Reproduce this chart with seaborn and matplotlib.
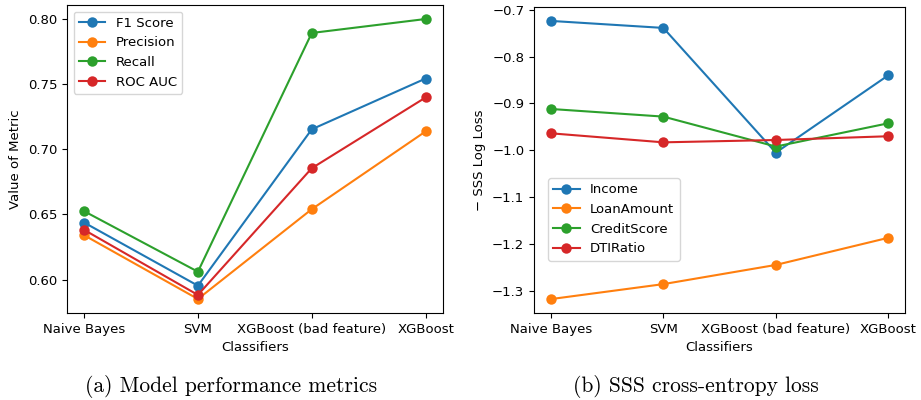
import pandas as pd
import matplotlib.pyplot as plt
import seaborn as sns

classifiers = ["Naive Bayes", "SVM", "XGBoost (bad feature)", "XGBoost"]

# (a) metriques
f1_score = [0.6438, 0.5954, 0.7152, 0.7541]
precision = [0.6341, 0.5852, 0.6540, 0.7136]
recall = [0.6525, 0.6061, 0.7890, 0.7997]
roc_auc = [0.6382, 0.5883, 0.6854, 0.7396]

# (b) - SSS log loss
income = [-0.7235, -0.7385, -1.005, -0.8397]
loan_amount = [-1.318, -1.286, -1.245, -1.187]
credit_score = [-0.9117, -0.928, -0.992, -0.9423]
dti_ratio = [-0.9637, -0.983, -0.978, -0.970]

metrics = {"F1 Score": f1_score, "Precision": precision,
           "Recall": recall, "ROC AUC": roc_auc}
losses = {"Income": income, "LoanAmount": loan_amount,
          "CreditScore": credit_score, "DTIRatio": dti_ratio}


def to_long(d):
    rows = []
    for name, vals in d.items():
        for c, v in zip(classifiers, vals):
            rows.append({"Classifier": c, "Series": name, "Value": v})
    return pd.DataFrame(rows)


plt.rcParams['font.family'] = ['DejaVu Sans']
fig = plt.figure(figsize=(9.21, 4.0), dpi=100)
ax1 = fig.add_axes([0.0727, 0.2175, 0.408, 0.77])
ax2 = fig.add_axes([0.5798, 0.2175, 0.403, 0.765])

pal = sns.color_palette("tab10", 4)

for ax, d, ylab in [(ax1, metrics, "Value of Metric"),
                    (ax2, losses, "\u2212 SSS Log Loss")]:
    df = to_long(d)
    sns.lineplot(data=df, x="Classifier", y="Value", hue="Series",
                 hue_order=list(d.keys()), palette=pal, marker="o",
                 markersize=7.5, markeredgewidth=0, linewidth=1.5,
                 sort=False, ax=ax)
    ax.set_xlabel("Classifiers", fontsize=9.5)
    ax.set_ylabel(ylab, fontsize=9.5)
    ax.tick_params(labelsize=9.5)

ax1.legend(loc="upper left", fontsize=9.5)
ax2.legend(loc="lower left", bbox_to_anchor=(0.02, 0.15), fontsize=9.5)

fig.text(0.251, 0.02, "(a) Model performance metrics", family="cmr10",
         fontsize=15.5, ha="center")
fig.text(0.756, 0.02, "(b) SSS cross-entropy loss", family="cmr10",
         fontsize=15.5, ha="center")

plt.savefig("out.png")
